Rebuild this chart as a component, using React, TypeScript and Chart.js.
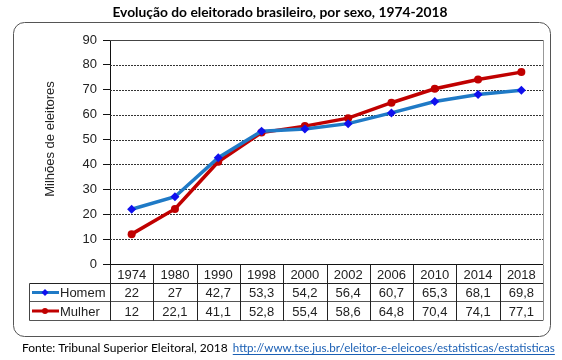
import { useEffect, useRef } from 'react';
import { Chart, registerables } from 'chart.js';

Chart.register(...registerables);

const years = ['1974', '1980', '1990', '1998', '2000', '2002', '2006', '2010', '2014', '2018'];
const homem = [22, 27, 42.7, 53.3, 54.2, 56.4, 60.7, 65.3, 68.1, 69.8];
const mulher = [12, 22.1, 41.1, 52.8, 55.4, 58.6, 64.8, 70.4, 74.1, 77.1];
const yTicks = [0, 10, 20, 30, 40, 50, 60, 70, 80, 90];

const titleText = 'Evolução do eleitorado brasileiro, por sexo, 1974-2018';
const yTitleText = 'Milhões de eleitores';
const sourceText = 'Fonte: Tribunal Superior Eleitoral, 2018 ';
const linkText = 'http://www.tse.jus.br/eleitor-e-eleicoes/estatisticas/estatisticas';

const ARIAL = '"Liberation Sans", Arial, sans-serif';
const CAL = 'Lato, "Open Sans", sans-serif';
const BLUE_LINE = '#1f7ac6';
const BLUE_MARK = '#1010ee';
const RED = '#c00000';

const fmt = (v: number) => String(v).replace('.', ',');

const decor = {
  id: 'decor',
  beforeDraw(chart: any) {
    const ctx = chart.ctx as CanvasRenderingContext2D;
    ctx.save();
    ctx.fillStyle = '#fff';
    ctx.fillRect(0, 0, chart.width, chart.height);
    // rounded frame
    const x0 = 13.5, y0 = 22.5, x1 = 550.5, y1 = 336.5, r = 11;
    ctx.beginPath();
    ctx.moveTo(x0 + r, y0);
    ctx.lineTo(x1 - r, y0);
    ctx.arcTo(x1, y0, x1, y0 + r, r);
    ctx.lineTo(x1, y1 - r);
    ctx.arcTo(x1, y1, x1 - r, y1, r);
    ctx.lineTo(x0 + r, y1);
    ctx.arcTo(x0, y1, x0, y1 - r, r);
    ctx.lineTo(x0, y0 + r);
    ctx.arcTo(x0, y0, x0 + r, y0, r);
    ctx.closePath();
    ctx.strokeStyle = '#555';
    ctx.lineWidth = 1;
    ctx.stroke();
    // title
    ctx.fillStyle = '#000';
    ctx.font = `bold 13.8px ${CAL}`;
    ctx.textAlign = 'center';
    ctx.textBaseline = 'middle';
    ctx.fillText(titleText, 280, 13);
    // y title
    ctx.save();
    ctx.translate(50, 139);
    ctx.rotate(-Math.PI / 2);
    ctx.font = `13px ${ARIAL}`;
    ctx.fillStyle = '#222';
    ctx.fillText(yTitleText, 0, 0);
    ctx.restore();
    // source
    ctx.textAlign = 'left';
    ctx.font = `12px ${CAL}`;
    ctx.fillStyle = '#000';
    ctx.fillText(sourceText, 22, 348);
    const sw = ctx.measureText(sourceText).width;
    ctx.font = `11.6px ${CAL}`;
    ctx.fillStyle = '#1a5fb4';
    const lx = 22 + sw + 2;
    ctx.fillText(linkText, lx, 348);
    const lw = ctx.measureText(linkText).width;
    ctx.fillRect(lx, 354, lw, 1);
    ctx.restore();
  },
  beforeDatasetsDraw(chart: any) {
    const ctx = chart.ctx as CanvasRenderingContext2D;
    const { left, right, top, bottom } = chart.chartArea;
    const ys = chart.scales.y;
    ctx.save();
    ctx.lineWidth = 1;
    ctx.strokeStyle = '#333';
    ctx.setLineDash([2, 1]);
    yTicks.forEach((v) => {
      if (v === 0 || v === 90) return;
      const y = Math.round(ys.getPixelForValue(v)) + 0.5;
      ctx.beginPath();
      ctx.moveTo(left, y);
      ctx.lineTo(right, y);
      ctx.stroke();
    });
    ctx.setLineDash([]);
    ctx.strokeStyle = '#444';
    ctx.beginPath();
    ctx.moveTo(left, Math.round(top) + 0.5);
    ctx.lineTo(right, Math.round(top) + 0.5);
    ctx.stroke();
    ctx.strokeStyle = '#999';
    ctx.beginPath();
    ctx.moveTo(Math.round(right) + 0.5, top);
    ctx.lineTo(Math.round(right) + 0.5, bottom);
    ctx.stroke();
    ctx.restore();
  },
  afterDraw(chart: any) {
    const ctx = chart.ctx as CanvasRenderingContext2D;
    const { left, right, bottom } = chart.chartArea;
    const xs = chart.scales.x;
    const n = years.length;
    const w = (right - left) / n;
    const r0 = Math.round(bottom) + 0.5;
    const r1 = r0 + 19;
    const r2 = r1 + 18;
    const r3 = r2 + 19;
    const legL = 29.5;
    ctx.save();
    ctx.lineWidth = 1;
    const hline = (y: number, a: number, b: number, c: string) => {
      ctx.strokeStyle = c;
      ctx.beginPath();
      ctx.moveTo(a, y);
      ctx.lineTo(b, y);
      ctx.stroke();
    };
    const vline = (x: number, a: number, b: number, c: string) => {
      ctx.strokeStyle = c;
      ctx.beginPath();
      ctx.moveTo(x, a);
      ctx.lineTo(x, b);
      ctx.stroke();
    };
    hline(r0, left, right, '#111');
    hline(r1, legL, right, '#222');
    hline(r2, legL, right, '#555');
    hline(r3, legL, right, '#555');
    vline(legL, r1, r3, '#444');
    for (let i = 0; i <= n; i++) {
      const x = Math.round(left + i * w) + 0.5;
      vline(x, r0, r3, i === n ? '#888' : '#222');
    }
    ctx.fillStyle = '#222';
    ctx.font = `13px ${ARIAL}`;
    ctx.textAlign = 'center';
    ctx.textBaseline = 'middle';
    for (let i = 0; i < n; i++) {
      const x = xs.getPixelForValue(i);
      ctx.fillText(years[i], x, (r0 + r1) / 2 + 1);
      ctx.fillText(fmt(homem[i]), x, (r1 + r2) / 2 + 1);
      ctx.fillText(fmt(mulher[i]), x, (r2 + r3) / 2 + 1);
    }
    // legend keys
    const keys = [
      { label: 'Homem', line: BLUE_LINE, mark: BLUE_MARK, y: (r1 + r2) / 2, diamond: true },
      { label: 'Mulher', line: RED, mark: RED, y: (r2 + r3) / 2, diamond: false },
    ];
    keys.forEach((k) => {
      ctx.strokeStyle = k.line;
      ctx.lineWidth = 3;
      ctx.beginPath();
      ctx.moveTo(32, k.y);
      ctx.lineTo(59, k.y);
      ctx.stroke();
      ctx.fillStyle = k.mark;
      ctx.beginPath();
      if (k.diamond) {
        ctx.moveTo(45, k.y - 3.5);
        ctx.lineTo(48.5, k.y);
        ctx.lineTo(45, k.y + 3.5);
        ctx.lineTo(41.5, k.y);
      } else {
        ctx.arc(45, k.y, 3, 0, Math.PI * 2);
      }
      ctx.closePath();
      ctx.fill();
      ctx.fillStyle = '#222';
      ctx.textAlign = 'left';
      ctx.font = `13px ${ARIAL}`;
      ctx.fillText(k.label, 60, k.y + 1);
    });
    ctx.restore();
  },
};

export default function App() {
  const ref = useRef<HTMLCanvasElement | null>(null);
  useEffect(() => {
    if (!ref.current) return;
    const chart = new Chart(ref.current, {
      type: 'line',
      data: {
        labels: years,
        datasets: [
          {
            label: 'Homem',
            data: homem,
            borderColor: BLUE_LINE,
            backgroundColor: BLUE_MARK,
            borderWidth: 3.5,
            pointStyle: 'rectRot',
            pointRadius: 4.5,
            pointBackgroundColor: BLUE_MARK,
            pointBorderColor: BLUE_MARK,
            pointBorderWidth: 0,
            tension: 0,
          },
          {
            label: 'Mulher',
            data: mulher,
            borderColor: RED,
            backgroundColor: RED,
            borderWidth: 3.5,
            pointStyle: 'circle',
            pointRadius: 4,
            pointBackgroundColor: RED,
            pointBorderColor: RED,
            pointBorderWidth: 0,
            tension: 0,
          },
        ],
      },
      options: {
        responsive: false,
        animation: false,
        layout: { padding: { top: 40, right: 19, bottom: 0, left: 0 } },
        plugins: {
          legend: { display: false },
          title: { display: false },
          tooltip: { enabled: false },
        },
        scales: {
          x: {
            offset: true,
            ticks: { display: false },
            grid: { display: false },
            border: { display: false },
            afterFit: (s: any) => {
              s.height = 96;
            },
          },
          y: {
            min: 0,
            max: 90,
            ticks: {
              stepSize: 10,
              color: '#222',
              font: { family: ARIAL, size: 13 },
              padding: 6,
            },
            grid: {
              drawOnChartArea: false,
              drawTicks: true,
              tickLength: 7,
              tickColor: '#111',
            },
            border: { display: true, color: '#111', width: 1 },
            afterFit: (s: any) => {
              s.width = 110;
            },
          },
        },
      },
      plugins: [decor],
    });
    return () => chart.destroy();
  }, []);
  return (
    <div style={{ position: 'absolute', left: 0, top: 0, width: 562, height: 360, background: '#fff' }}>
      <canvas ref={ref} width={562} height={360} />
    </div>
  );
}
